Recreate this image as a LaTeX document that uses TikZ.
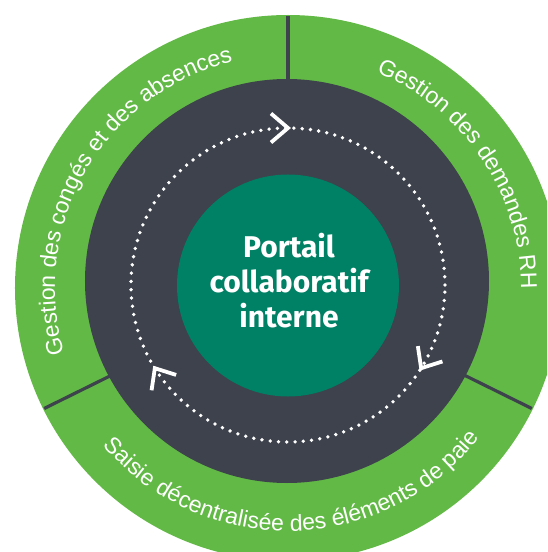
\documentclass[tikz,border=0pt]{standalone}
\usepackage{fontspec}
\usetikzlibrary{decorations.text}
\newfontfamily\labelfont{Liberation Sans}
\newfontfamily\centrefont{Fira Sans}
\definecolor{ringgreen}{RGB}{98,185,70}
\definecolor{ringdark}{RGB}{61,66,76}
\definecolor{hubteal}{RGB}{0,128,100}
\newcommand{\ringtext}{\labelfont\fontsize{23}{23}\selectfont\color{white}}

\begin{document}
\begin{tikzpicture}[x=1pt, y=1pt,
        divider/.style={ringdark, line width=3.2pt},
        chevron/.style={white, line width=3.8pt, line cap=butt, line join=miter},
        ringlabel/.style={decorate, decoration={text along path, text align=center, text={|\ringtext|#1}}}]
        \clip (-288,-264) rectangle (259,288);

        \fill[ringgreen] (0,0) circle (273);
        \foreach \a in {90, 206.3, 333.7}
            \draw[divider] (\a:150) -- (\a:272);

        \fill[ringdark] (-1,7) circle (202);
        \fill[hubteal] (0,2.5) circle (111);

        \draw[white, line width=3.8pt, line cap=round, dash pattern=on 0pt off 8.3pt] (0,3) circle (157);
        \foreach \a in {90, -32, 212}
            \draw[chevron, shift={(0,3)}, rotate=\a] (142.5,17) -- (157,0) -- (171.5,17);

        \path[ringlabel={Gestion des congés et des absences}] (215:233) arc[start angle=215, end angle=85, radius=233];
        \path[ringlabel={Gestion des demandes RH}] (90:233) arc[start angle=90, end angle=-22.4, radius=233];
        \path[ringlabel={Saisie décentralisée des éléments de paie}] (205:243) arc[start angle=205, end angle=337.4, radius=243];

        \node[text=white, align=center, inner sep=0pt, font=\centrefont\bfseries\fontsize{30}{35}\selectfont] (portail) at (1,7.5) {Portail\\collaboratif\\interne};
    \end{tikzpicture}
\end{document}
